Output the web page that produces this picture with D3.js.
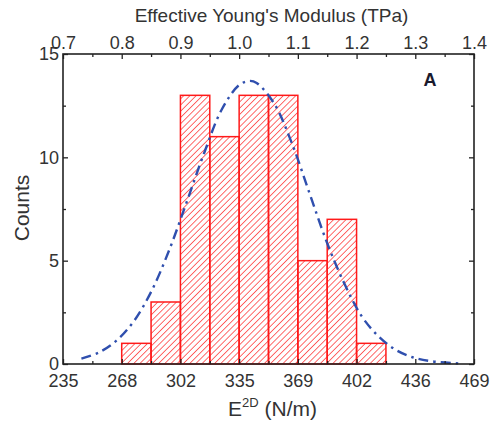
<!DOCTYPE html>
<html>
<head>
<meta charset="utf-8">
<script src="https://cdn.jsdelivr.net/npm/d3@7"></script>
<style>
  body { margin: 0; background: #fff; }
  text { font-family: Arial, "Liberation Sans", sans-serif; }
</style>
</head>
<body>
<div id="chart"></div>
<script>
// histogram bins (lower edge, TPa) and counts
var binStarts = [0.80, 0.85, 0.90, 0.95, 1.00, 1.05, 1.10, 1.15, 1.20];
var counts = [1, 3, 13, 11, 13, 13, 5, 7, 1];
var binWidth = 0.05;

// gaussian fit: E2D (N/m) and counts
var fitX = [245, 255, 265, 275, 285, 295, 305, 315, 325, 335, 341, 345, 355, 365, 375, 385, 395, 405, 415, 425, 435, 445, 460];
var fitY = [0.26, 0.56, 1.13, 2.08, 3.53, 5.49, 7.82, 10.2, 12.3, 13.5, 13.7, 13.6, 12.6, 10.7, 8.3, 5.9, 3.9, 2.3, 1.3, 0.65, 0.3, 0.13, 0.03];

var topTicks = [0.7, 0.8, 0.9, 1.0, 1.1, 1.2, 1.3, 1.4];
var bottomLabels = ["235", "268", "302", "335", "369", "402", "436", "469"];
var yTicks = [0, 5, 10, 15];

var thickness = 335; // N/m per TPa

var W = 490, H = 423;
var margin = { top: 54, right: 16, bottom: 59, left: 63 };
var width = W - margin.left - margin.right;
var height = H - margin.top - margin.bottom;

var svg = d3.select("#chart").append("svg")
  .attr("width", W)
  .attr("height", H);

var defs = svg.append("defs");
defs.append("pattern")
  .attr("id", "hatch")
  .attr("patternUnits", "userSpaceOnUse")
  .attr("width", 4.4)
  .attr("height", 4.4)
  .attr("patternTransform", "rotate(45)")
  .append("line")
  .attr("x1", 0).attr("y1", 0)
  .attr("x2", 0).attr("y2", 4.4)
  .attr("stroke", "#ff2a2a")
  .attr("stroke-width", 1.4);

var g = svg.append("g")
  .attr("transform", "translate(" + margin.left + "," + margin.top + ")");

var x = d3.scaleLinear().domain([0.7, 1.4]).range([0, width]);
var xE = d3.scaleLinear().domain([0.7 * thickness, 1.4 * thickness]).range([0, width]);
var y = d3.scaleLinear().domain([0, 15]).range([height, 0]);

// bars
g.selectAll(".bar")
  .data(binStarts)
  .enter()
  .append("rect")
  .attr("class", "bar")
  .attr("x", d => x(d))
  .attr("width", d => x(d + binWidth) - x(d))
  .attr("y", (d, i) => y(counts[i]))
  .attr("height", (d, i) => height - y(counts[i]))
  .style("fill", "url(#hatch)")
  .style("stroke", "#ff1a1a")
  .style("stroke-width", 1.5);

// fit curve
var line = d3.line()
  .x(d => xE(d[0]))
  .y(d => y(d[1]))
  .curve(d3.curveCatmullRom);

g.append("path")
  .datum(fitX.map((v, i) => [v, fitY[i]]))
  .attr("d", line)
  .style("fill", "none")
  .style("stroke", "#2f4fae")
  .style("stroke-width", 2.4)
  .style("stroke-dasharray", "10,5,2.5,5");

// axes
var minorX = d3.range(0.75, 1.4, 0.1);
var minorY = [2.5, 7.5, 12.5];

function styleAxis(sel) {
  sel.select(".domain").remove();
  sel.selectAll("line").style("stroke", "#222").style("stroke-width", 1.3);
  sel.selectAll("text")
    .style("font-size", "18px")
    .style("fill", "#333");
}

var bottomAxis = g.append("g")
  .attr("transform", "translate(0," + height + ")")
  .call(d3.axisBottom(x).tickValues(topTicks)
    .tickFormat((d, i) => bottomLabels[i])
    .tickSize(-5).tickPadding(10));
styleAxis(bottomAxis);

var topAxis = g.append("g")
  .call(d3.axisTop(x).tickValues(topTicks)
    .tickFormat(d3.format(".1f"))
    .tickSize(-5).tickPadding(5));
styleAxis(topAxis);

var leftAxis = g.append("g")
  .call(d3.axisLeft(y).tickValues(yTicks)
    .tickSize(-5).tickPadding(4));
styleAxis(leftAxis);

var rightAxis = g.append("g")
  .attr("transform", "translate(" + width + ",0)")
  .call(d3.axisRight(y).tickValues(yTicks)
    .tickSize(-5).tickFormat(""));
styleAxis(rightAxis);

// minor ticks
g.append("g").call(d3.axisBottom(x).tickValues(minorX).tickSize(-3).tickFormat(""))
  .attr("transform", "translate(0," + height + ")")
  .call(styleAxis);
g.append("g").call(d3.axisTop(x).tickValues(minorX).tickSize(-3).tickFormat(""))
  .call(styleAxis);
g.append("g").call(d3.axisLeft(y).tickValues(minorY).tickSize(-3).tickFormat(""))
  .call(styleAxis);
g.append("g").attr("transform", "translate(" + width + ",0)")
  .call(d3.axisRight(y).tickValues(minorY).tickSize(-3).tickFormat(""))
  .call(styleAxis);

// frame
g.append("rect")
  .attr("width", width)
  .attr("height", height)
  .style("fill", "none")
  .style("stroke", "#222")
  .style("stroke-width", 1.6);

// titles
svg.append("text")
  .attr("x", margin.left + width / 2 + 3)
  .attr("y", 22)
  .attr("text-anchor", "middle")
  .style("font-size", "19px")
  .style("fill", "#333")
  .text("Effective Young's Modulus (TPa)");

var xt = svg.append("text")
  .attr("x", margin.left + width / 2 + 4)
  .attr("y", 416)
  .attr("text-anchor", "middle")
  .style("font-size", "21px")
  .style("fill", "#333");
xt.append("tspan").text("E");
xt.append("tspan").attr("dy", -9).style("font-size", "13px").text("2D");
xt.append("tspan").attr("dy", 9).text(" (N/m)");

svg.append("text")
  .attr("transform", "translate(29," + (margin.top + height / 2 - 1) + ") rotate(-90)")
  .attr("text-anchor", "middle")
  .style("font-size", "21px")
  .style("fill", "#333")
  .text("Counts");

svg.append("text")
  .attr("x", 430)
  .attr("y", 86)
  .attr("text-anchor", "middle")
  .style("font-size", "18px")
  .style("font-weight", "bold")
  .style("fill", "#1a1a2e")
  .text("A");
</script>
</body>
</html>
